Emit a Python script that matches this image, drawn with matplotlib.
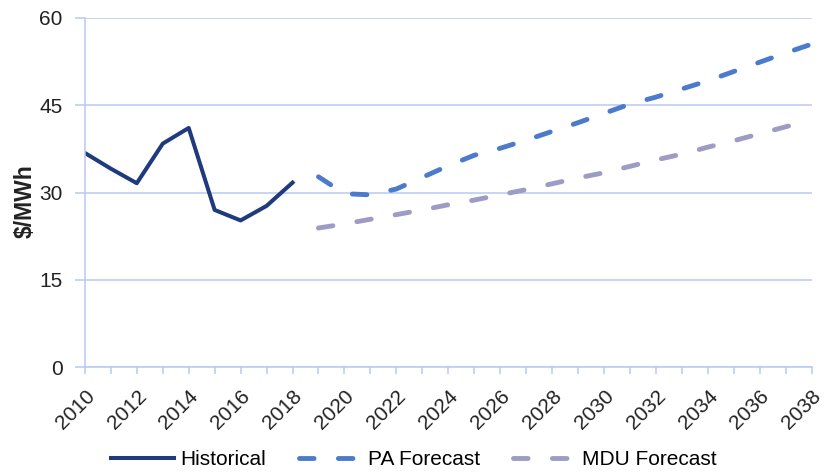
"""Historical and forecast power prices, $/MWh."""

import matplotlib

matplotlib.use("Agg")
import matplotlib.pyplot as plt
from matplotlib.ticker import MultipleLocator

hist_years = [2010, 2011, 2012, 2013, 2014, 2015, 2016, 2017, 2018]
hist_price = [36.8, 34.1, 31.6, 38.4, 41.1, 27.0, 25.2, 27.7, 31.7]

fc_years = list(range(2019, 2039))
pa_price = [32.7, 29.8, 29.6, 30.6, 32.6, 34.6, 36.4, 37.6, 39.0, 40.5,
            42.0, 43.6, 45.2, 46.4, 47.8, 49.2, 50.8, 52.4, 54.0, 55.5]
mdu_price = [23.9, 24.6, 25.4, 26.2, 27.0, 27.9, 28.7, 29.6, 30.5, 31.5,
             32.5, 33.4, 34.5, 35.6, 36.6, 37.8, 38.9, 40.1, 41.3, 42.5]

x_ticks = list(range(2010, 2039, 2))
y_ticks = [0, 15, 30, 45, 60]

GRID = "#b9c9f2"
TEXT = "#222222"
plt.rcParams["font.family"] = ["Liberation Sans", "DejaVu Sans"]

fig = plt.figure(figsize=(8.24, 4.73), dpi=100)
ax = fig.add_axes([0.103, 0.224, 0.882, 0.738])

ax.plot(hist_years, hist_price, color="#1f3a7d", linewidth=2.9,
        label="Historical")
ax.plot(fc_years, pa_price, color="#4d7bcb", linewidth=3.5,
        dashes=(3, 5), dash_capstyle="round", label="PA Forecast")
ax.plot(fc_years, mdu_price, color="#9d9cc4", linewidth=3.5,
        dashes=(3, 5), dash_capstyle="round", label="MDU Forecast")

ax.set_xlim(2010, 2038)
ax.set_ylim(0, 60)
ax.set_yticks(y_ticks)
ax.set_xticks(x_ticks)
ax.xaxis.set_minor_locator(MultipleLocator(1))
ax.set_xticklabels([str(y) for y in x_ticks], rotation=45, ha="right",
                   rotation_mode="anchor")

ax.yaxis.grid(True, color=GRID, linewidth=1.1)
ax.set_axisbelow(True)
for side in ["top", "right"]:
    ax.spines[side].set_visible(False)
for side in ["left", "bottom"]:
    ax.spines[side].set_color(GRID)
    ax.spines[side].set_linewidth(1.1)

ax.tick_params(axis="y", colors=GRID, labelcolor=TEXT, labelsize=15,
               length=7, width=1.1, pad=9)
ax.tick_params(axis="x", which="major", colors=GRID, labelcolor=TEXT,
               labelsize=15, length=5, width=1.1, pad=9)
ax.tick_params(axis="x", which="minor", colors=GRID, length=5, width=1.1)

ax.set_ylabel("$/MWh", fontsize=16.5, fontweight="bold", color=TEXT)
ax.yaxis.set_label_coords(-0.066, 0.475)

ax.legend(loc="upper center", bbox_to_anchor=(0.453, -0.185), ncol=3,
          frameon=False, fontsize=15, handlelength=3.0, handletextpad=0.3,
          columnspacing=1.6)

plt.savefig("out.png", dpi=100)
plt.close()
